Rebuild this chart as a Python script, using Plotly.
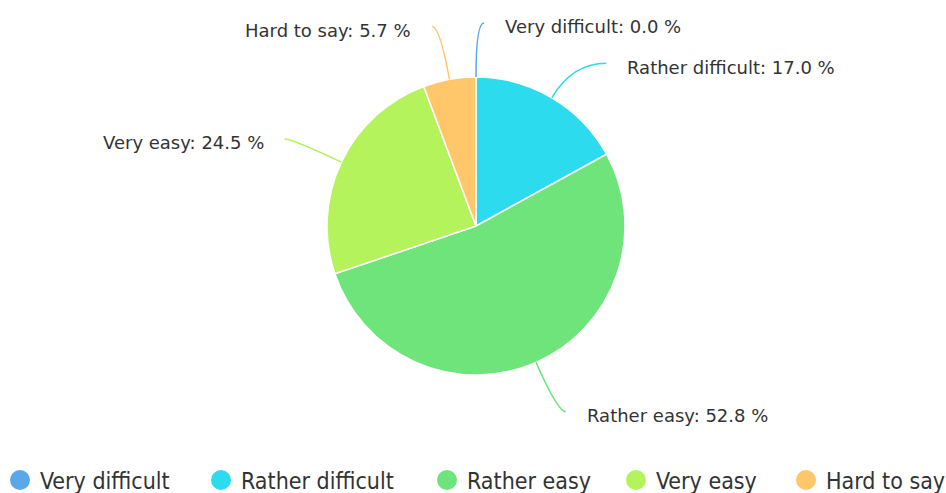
import math
import plotly.graph_objects as go

# ---- data ----
categories = ["Very difficult", "Rather difficult", "Rather easy", "Very easy", "Hard to say"]
values = [0.0, 17.0, 52.8, 24.5, 5.7]
colors = ["#5aa8ea", "#2ddbee", "#6ee47a", "#b4f35c", "#ffc76a"]

# ---- layout geometry (styling) ----
W, H = 946, 493
CX, CY, R = 476, 226, 149          # pie centre / radius in px
LEN1_DEFAULT, LEN2_DEFAULT = 54, 8
LEN1 = {"Rather difficult": 40}
LEN2 = {"Rather difficult": 34}
GAP = 19
FONT = "Tahoma, 'DejaVu Sans', sans-serif"
LEGEND_FONT = "'DejaVu Sans Condensed', 'DejaVu Sans', sans-serif"
LEGEND_MARKER_X = [20, 221, 447, 636, 806]   # legend symbol centres (px)
LEGEND_Y = 480


def fx(x):
    return x / W


def fy(y):
    return 1 - y / H


fig = go.Figure()
fig.add_trace(go.Pie(
    labels=categories, values=values, sort=False, direction="clockwise",
    rotation=0, textinfo="none", hoverinfo="label+percent", showlegend=False,
    marker=dict(colors=colors, line=dict(color="white", width=1.5)),
    domain=dict(x=[fx(CX - R), fx(CX + R)], y=[fy(CY + R), fy(CY - R)]),
))

total = sum(values)
cum = 0.0
shapes, annotations = [], []
for cat, v, col in zip(categories, values, colors):
    mid = math.radians((cum + v / 2) / total * 360)
    cum += v
    s, c = math.sin(mid), math.cos(mid)
    side = 1 if s >= -1e-9 else -1
    l1 = LEN1.get(cat, LEN1_DEFAULT)
    l2 = LEN2.get(cat, LEN2_DEFAULT)
    x0, y0 = CX + R * s, CY - R * c
    xe, ye = CX + (R + l1) * s, CY - (R + l1) * c
    x1, y1 = xe + side * l2, ye
    shapes.append(dict(
        type="path", xref="paper", yref="paper",
        path=f"M {fx(x0)},{fy(y0)} Q {fx(xe)},{fy(ye)} {fx(x1)},{fy(y1)}",
        line=dict(color=col, width=1.5),
    ))
    annotations.append(dict(
        x=fx(x1 + side * GAP), y=fy(y1 + 4), xref="paper", yref="paper",
        text=f"{cat}: {v:.1f} %", showarrow=False,
        xanchor="left" if side > 0 else "right", yanchor="middle",
        font=dict(family=FONT, size=18, color="#333333"),
    ))

# legend entries (circle markers), one legend box per entry
legend_layout = {}
for i, (cat, col) in enumerate(zip(categories, colors)):
    key = "legend" if i == 0 else f"legend{i + 1}"
    fig.add_trace(go.Scatter(
        x=[None], y=[None], mode="markers", name=cat, legend=key,
        marker=dict(symbol="circle", size=16, color=col, line=dict(color=col, width=4)),
    ))
    legend_layout[key] = dict(
        orientation="h", x=fx(LEGEND_MARKER_X[i] - 20), xanchor="left",
        y=fy(LEGEND_Y), yanchor="middle", bgcolor="rgba(0,0,0,0)",
        font=dict(family=LEGEND_FONT, size=23, color="#333333"),
        itemclick=False, itemdoubleclick=False,
    )

fig.update_layout(
    width=W, height=H, autosize=False,
    margin=dict(l=0, r=0, t=0, b=0, autoexpand=False),
    paper_bgcolor="white", plot_bgcolor="white",
    xaxis=dict(visible=False), yaxis=dict(visible=False),
    shapes=shapes, annotations=annotations,
    showlegend=True,
    **legend_layout,
)

fig.write_html(
    "out.html",
    config={"displayModeBar": False},
    post_script="document.body.style.margin='0';document.body.style.overflow='hidden';",
)
